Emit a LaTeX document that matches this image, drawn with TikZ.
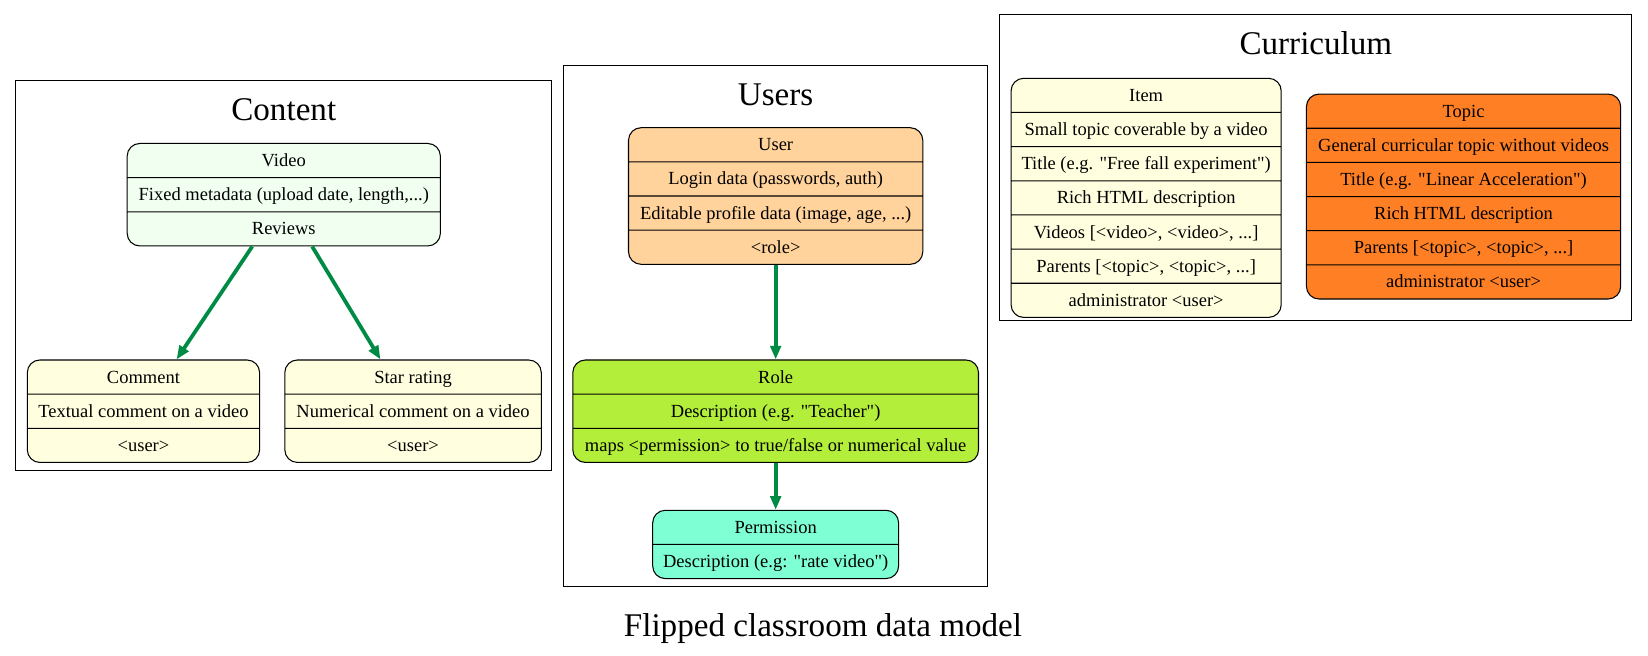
\documentclass[tikz,border=0pt]{standalone}
\usepackage{fontspec}
\setmainfont{Liberation Serif}
\usetikzlibrary{arrows.meta, shapes.multipart, positioning}

\definecolor{honeydew}{HTML}{F0FFF0}
\definecolor{lightyel}{HTML}{FFFFE0}
\definecolor{burlywood}{HTML}{FFD39B}
\definecolor{olivedrab}{HTML}{B3EE3A}
\definecolor{aquamar}{HTML}{7FFFD4}
\definecolor{chocolate}{HTML}{FF7F24}
\definecolor{edgegreen}{HTML}{008B45}

\newcommand{\bodyfont}{\fontsize{17.6}{20}\selectfont}
\newcommand{\titlefont}{\fontsize{31.5}{38}\selectfont}
\newcommand{\rw}{\rule[-10pt]{0pt}{31.5pt}}
\newcommand{\qq}{\textquotedbl}

\begin{document}
\begin{tikzpicture}[x=1pt, y=-1pt,
    record/.style={rectangle split, rectangle split parts=#1, draw, rounded corners=12pt,
      inner xsep=0pt, inner ysep=0pt, anchor=north, line width=1pt, font=\bodyfont},
    flow/.style={draw=edgegreen, line width=3.6pt, -{Triangle[length=13pt,width=10pt]}},
    cluster/.style={draw, line width=1pt},
    clabel/.style={font=\titlefont, anchor=base}]
	\useasboundingbox (0,0) rectangle (1568,624);

	% Content
	\draw[cluster] (15,77) rectangle (525,448);
	\node[clabel] (contentlabel) at (270,115) {Content};
	\node[record=3, fill=honeydew, minimum width=298pt] (video) at (270,136)
	  {\rw Video\nodepart{two}\rw Fixed metadata (upload date, length,...)\nodepart{three}\rw Reviews};
	\node[record=3, fill=lightyel, minimum width=221pt] (comment) at (136.5,342)
	  {\rw Comment\nodepart{two}\rw Textual comment on a video\nodepart{three}\rw <user>};
	\node[record=3, fill=lightyel, minimum width=244pt] (star) at (393,342)
	  {\rw Star rating\nodepart{two}\rw Numerical comment on a video\nodepart{three}\rw <user>};
	\draw[flow] ([xshift=-30pt]video.south) -- ([xshift=31.5pt]comment.north);
	\draw[flow] ([xshift=27pt]video.south) -- ([xshift=-31pt]star.north);

	% Users
	\draw[cluster] (536,62) rectangle (940,558);
	\node[clabel] (userslabel) at (738,100) {Users};
	\node[record=4, fill=burlywood, minimum width=280pt] (user) at (738,121)
	  {\rw User\nodepart{two}\rw Login data (passwords, auth)\nodepart{three}\rw Editable profile data (image, age, ...)\nodepart{four}\rw <role>};
	\node[record=3, fill=olivedrab, minimum width=386pt] (role) at (738,342)
	  {\rw Role\nodepart{two}\rw Description (e.g. \qq Teacher\qq)\nodepart{three}\rw maps <permission> to true/false or numerical value};
	\node[record=2, fill=aquamar, minimum width=234pt] (permission) at (738,485)
	  {\rw Permission\nodepart{two}\rw Description (e.g: \qq rate video\qq)};
	\draw[flow] (user.south) -- (role.north);
	\draw[flow] (role.south) -- (permission.north);

	% Curriculum
	\draw[cluster] (951,14) rectangle (1552,305);
	\node[clabel] (curriclabel) at (1252,52) {Curriculum};
	\node[record=7, fill=lightyel, minimum width=257pt] (item) at (1090.5,74)
	  {\rw Item\nodepart{two}\rw Small topic coverable by a video\nodepart{three}\rw Title (e.g. \qq Free fall experiment\qq)\nodepart{four}\rw Rich HTML description\nodepart{five}\rw Videos [<video>, <video>, ...]\nodepart{six}\rw Parents [<topic>, <topic>, ...]\nodepart{seven}\rw administrator <user>};
	\node[record=6, fill=chocolate, minimum width=299pt] (topic) at (1392.5,89)
	  {\rw Topic\nodepart{two}\rw General curricular topic without videos\nodepart{three}\rw Title (e.g. \qq Linear Acceleration\qq)\nodepart{four}\rw Rich HTML description\nodepart{five}\rw Parents [<topic>, <topic>, ...]\nodepart{six}\rw administrator <user>};

	\node[clabel] (caption) at (783,606) {Flipped classroom data model};
\end{tikzpicture}
\end{document}
